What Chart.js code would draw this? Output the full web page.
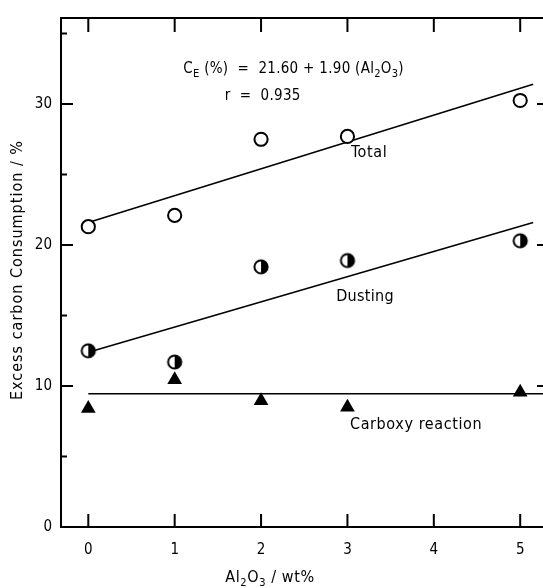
<!DOCTYPE html>
<html>
<head>
<meta charset="utf-8">
<script src="https://cdn.jsdelivr.net/npm/chart.js@4.4.1/dist/chart.umd.min.js"></script>
<style>
  html, body { margin: 0; padding: 0; background: #fff; overflow: hidden; }
  #wrap { width: 560px; height: 588px; }
</style>
</head>
<body>
<div id="wrap"><canvas id="chart" width="560" height="588"></canvas></div>
<script>
// Al2O3 content (wt%)
const xValues = [0, 1, 2, 3, 5];

const totalValues = [21.3, 22.1, 27.5, 27.7, 30.25];
const dustingValues = [12.5, 11.7, 18.45, 18.9, 20.3];
const carboxyValues = [8.4, 10.45, 8.95, 8.5, 9.55];

// fitted lines: [x, y] end points
const totalFit = [[0, 21.6], [5.15, 31.4]];
const dustingFit = [[0, 12.4], [5.15, 21.6]];
const carboxyFit = [[0, 9.45], [5.35, 9.45]];

// axis ticks
const xTicks = [0, 1, 2, 3, 4, 5];
const yMajor = [0, 10, 20, 30];
const yMinor = [5, 15, 25, 35];

const FONT = "'DejaVu Sans Condensed', 'Liberation Sans Narrow', 'DejaVu Sans', sans-serif";

function pts(xs, ys) {
    return xs.map((x, i) => ({ x: x, y: ys[i] }));
}
function fitPts(arr) {
    return arr.map(p => ({ x: p[0], y: p[1] }));
}

// half filled marker (left white, right black)
function halfCircle() {
    const c = document.createElement('canvas');
    c.width = 18; c.height = 18;
    const g = c.getContext('2d');
    const r = 6.6;
    g.fillStyle = '#fff';
    g.beginPath(); g.arc(9, 9, r, 0, Math.PI * 2); g.fill();
    g.fillStyle = '#000';
    g.beginPath(); g.arc(9, 9, r, -Math.PI / 2, Math.PI / 2); g.closePath(); g.fill();
    g.lineWidth = 2;
    g.strokeStyle = '#000';
    g.beginPath(); g.arc(9, 9, r, 0, Math.PI * 2); g.stroke();
    return c;
}

// text with subscripts: parts = [[text, isSub], ...]
function setFont(ctx, size, sub) {
    ctx.font = (sub ? Math.round(size * 0.7) : size) + 'px ' + FONT;
}
function richWidth(ctx, parts, size) {
    let w = 0;
    parts.forEach(p => {
        setFont(ctx, size, p[1]);
        w += ctx.measureText(p[0]).width;
    });
    return w;
}
function drawRich(ctx, parts, x, y, size) {
    parts.forEach(p => {
        setFont(ctx, size, p[1]);
        ctx.fillText(p[0], x, p[1] ? y + 4 : y);
        x += ctx.measureText(p[0]).width;
    });
}

// annotations in data units (left edge, baseline), font size, letter spacing
const notes = [
    { parts: [['C', 0], ['E', 1], [' (%)  =  21.60 + 1.90 (Al', 0], ['2', 1], ['O', 0], ['3', 1], [')', 0]], x: 1.10, y: 32.2, size: 15, sp: '0.3px' },
    { parts: [['r  =  0.935', 0]], x: 1.58, y: 30.3, size: 15, sp: '0.3px' },
    { parts: [['Total', 0]], x: 3.04, y: 26.25, size: 16, sp: '0.6px' },
    { parts: [['Dusting', 0]], x: 2.87, y: 16.05, size: 16, sp: '0.3px' },
    { parts: [['Carboxy reaction', 0]], x: 3.03, y: 6.95, size: 16, sp: '0.6px' }
];

const framePlugin = {
    id: 'frame',
    afterDraw(chart) {
        const ctx = chart.ctx;
        const a = chart.chartArea;
        const xs = chart.scales.x, ys = chart.scales.y;
        ctx.save();
        ctx.strokeStyle = '#000';
        ctx.lineWidth = 2;
        ctx.strokeRect(a.left, a.top, a.right - a.left, a.bottom - a.top);

        ctx.beginPath();
        xTicks.forEach(v => {
            const px = xs.getPixelForValue(v);
            ctx.moveTo(px, a.bottom); ctx.lineTo(px, a.bottom - 13);
            ctx.moveTo(px, a.top); ctx.lineTo(px, a.top + 14);
        });
        yMajor.forEach(v => {
            const py = ys.getPixelForValue(v);
            ctx.moveTo(a.left, py); ctx.lineTo(a.left + 12, py);
            ctx.moveTo(a.right, py); ctx.lineTo(a.right - 13, py);
        });
        yMinor.forEach(v => {
            const py = ys.getPixelForValue(v);
            ctx.moveTo(a.left, py); ctx.lineTo(a.left + 6, py);
            ctx.moveTo(a.right, py); ctx.lineTo(a.right - 6, py);
        });
        ctx.stroke();

        ctx.fillStyle = '#000';
        ctx.textBaseline = 'alphabetic';
        ctx.textAlign = 'left';
        notes.forEach(n => {
            ctx.letterSpacing = n.sp;
            drawRich(ctx, n.parts, xs.getPixelForValue(n.x), ys.getPixelForValue(n.y), n.size);
        });

        // x axis title
        ctx.letterSpacing = '0.6px';
        const xt = [['Al', 0], ['2', 1], ['O', 0], ['3', 1], [' / wt%', 0]];
        const w = richWidth(ctx, xt, 16);
        drawRich(ctx, xt, 270 - w / 2, 582, 16);

        // y axis title
        ctx.letterSpacing = '1px';
        ctx.translate(18, 270);
        ctx.rotate(-Math.PI / 2);
        ctx.font = '16px ' + FONT;
        ctx.textAlign = 'center';
        ctx.textBaseline = 'middle';
        ctx.fillText('Excess carbon Consumption / %', 0, 0);
        ctx.restore();
    }
};

new Chart(document.getElementById('chart'), {
    type: 'scatter',
    data: {
        datasets: [
            {
                label: 'Total',
                data: pts(xValues, totalValues),
                pointStyle: 'circle',
                pointRadius: 6.6,
                pointBorderWidth: 2,
                pointBackgroundColor: '#fff',
                pointBorderColor: '#000',
                order: 1
            },
            {
                label: 'Dusting',
                data: pts(xValues, dustingValues),
                pointStyle: halfCircle(),
                order: 1
            },
            {
                label: 'Carboxy reaction',
                data: pts(xValues, carboxyValues),
                pointStyle: 'triangle',
                pointRadius: 8.5,
                pointBorderWidth: 0,
                pointBackgroundColor: '#000',
                pointBorderColor: '#000',
                order: 1
            },
            { label: 'Total fit', data: fitPts(totalFit), showLine: true, borderColor: '#000', borderWidth: 1.6, pointRadius: 0, order: 2 },
            { label: 'Dusting fit', data: fitPts(dustingFit), showLine: true, borderColor: '#000', borderWidth: 1.6, pointRadius: 0, order: 2 },
            { label: 'Carboxy fit', data: fitPts(carboxyFit), showLine: true, borderColor: '#000', borderWidth: 1.6, pointRadius: 0, order: 2 }
        ]
    },
    options: {
        responsive: false,
        animation: false,
        layout: { padding: { top: 11, right: 10, left: 0, bottom: 0 } },
        plugins: {
            legend: { display: false },
            tooltip: { enabled: false }
        },
        scales: {
            x: {
                type: 'linear',
                min: -0.316,
                max: 5.345,
                grid: { display: false, drawTicks: false },
                border: { display: false },
                ticks: {
                    stepSize: 1,
                    includeBounds: false,
                    padding: 14,
                    color: '#000',
                    font: { family: FONT, size: 15 }
                },
                afterFit: s => { s.height = 61; }
            },
            y: {
                type: 'linear',
                min: 0,
                max: 36.1,
                grid: { display: false, drawTicks: false },
                border: { display: false },
                ticks: {
                    stepSize: 5,
                    includeBounds: false,
                    padding: 9,
                    color: '#000',
                    font: { family: FONT, size: 15 },
                    callback: v => (v % 10 === 0 ? String(v) : '')
                },
                afterFit: s => { s.width = 61; }
            }
        }
    },
    plugins: [framePlugin]
});
</script>
</body>
</html>
